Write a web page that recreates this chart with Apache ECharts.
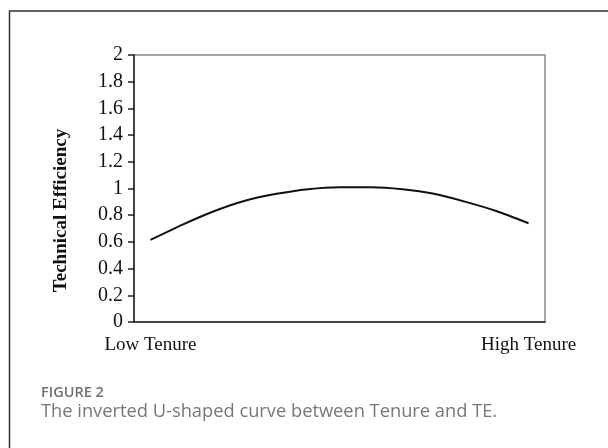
<!DOCTYPE html>
<html>
<head>
    <meta charset="utf-8">
    <title>Tenure and TE</title>
    <script src="https://cdn.jsdelivr.net/npm/echarts@6/dist/echarts.min.js"></script>
    <style>
        html, body { margin: 0; padding: 0; background: #fff; }
        #main { width: 608px; height: 448px; }
    </style>
</head>
<body>
<div id="main"></div>
<script>
    // 横轴位置（0-100 代表 Low 到 High Tenure）和技术效率
    var tenure = [4, 11.7, 19.3, 27, 34.7, 42.3, 50, 57.7, 65.3, 73, 80.7, 88.3, 96];
    var efficiency = [0.615, 0.728, 0.828, 0.908, 0.96, 0.995, 1.01, 1.01, 0.995, 0.96, 0.90, 0.83, 0.74];
    var xLabels = { 4: 'Low Tenure', 96: 'High Tenure' };
    var yTicks = [0, 0.2, 0.4, 0.6, 0.8, 1, 1.2, 1.4, 1.6, 1.8, 2];

    var points = [];
    for (var i = 0; i < tenure.length; i++) {
        points.push([tenure[i], efficiency[i]]);
    }

    var serif = '"Liberation Serif", "DejaVu Serif", serif';
    var myChart = echarts.init(document.getElementById('main'));
    var option = {
        animation: false,
        backgroundColor: '#fff',
        grid: {
            left: 134, top: 55, right: 63, bottom: 126,
            show: true, borderColor: '#8a8a8a', borderWidth: 1.5
        },
        xAxis: {
            type: 'value',
            min: 0, max: 100, interval: 4,
            splitLine: { show: false },
            axisTick: { show: false },
            axisLine: { lineStyle: { color: '#222', width: 1.5 } },
            axisLabel: {
                margin: 14,
                fontFamily: serif, fontSize: 19, color: '#111',
                formatter: function (v) { return xLabels[v] || ''; }
            }
        },
        yAxis: {
            type: 'value',
            min: yTicks[0], max: yTicks[yTicks.length - 1], interval: 0.2,
            name: 'Technical Efficiency',
            nameLocation: 'middle',
            nameGap: 63,
            nameTextStyle: {
                fontFamily: serif, fontSize: 19, fontWeight: 'bold', color: '#111',
                padding: [0, 44, 0, 0]
            },
            splitLine: { show: false },
            axisLine: { show: true, lineStyle: { color: '#222', width: 1.5 } },
            axisTick: { show: true, length: 6, lineStyle: { color: '#222', width: 1.5 } },
            axisLabel: {
                margin: 11,
                fontFamily: serif, fontSize: 20, color: '#111',
                formatter: function (v) { return String(Math.round(v * 10) / 10); }
            }
        },
        series: [{
            type: 'line',
            data: points,
            showSymbol: false,
            smooth: 0.2,
            lineStyle: { color: '#111', width: 2 }
        }],
        graphic: [
            {
                type: 'polyline',
                shape: { points: [[9.5, 460], [9.5, 11], [620, 11]] },
                style: { stroke: '#333', lineWidth: 1.5, fill: null }
            },
            {
                type: 'text', left: 41, top: 385,
                style: { text: 'FIGURE 2', font: '600 14.5px "Open Sans", sans-serif', fill: '#6f6f6f' }
            },
            {
                type: 'text', left: 41, top: 403,
                style: { text: 'The inverted U-shaped curve between Tenure and TE.', font: '18.3px "Open Sans", sans-serif', fill: '#777' }
            }
        ]
    };
    myChart.setOption(option);
</script>
</body>
</html>
